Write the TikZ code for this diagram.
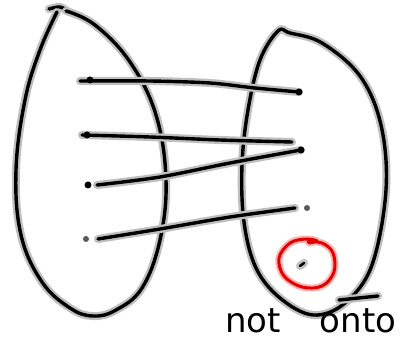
\documentclass[tikz,border=0pt]{standalone}
\usepackage{fontspec}
\setmainfont{DejaVu Sans}
\begin{document}
\begin{tikzpicture}[x=1pt,y=-1pt,
  sk/.style={line width=3.4pt, black, line cap=round, line join=round,
     preaction={draw=gray!50, line width=8pt, line cap=round, line join=round}},
  rsk/.style={line width=3pt, red!90!black, line cap=round, line join=round,
     preaction={draw=red!30, line width=7pt, line cap=round, line join=round}},
  dotm/.style={circle, fill=black, inner sep=0pt, minimum size=7pt},
  label/.style={font=\fontsize{34}{34}\selectfont, inner sep=0pt, text=black}]
\useasboundingbox (0,0) rectangle (410,347);
\fill[white] (0,0) rectangle (410,347);
% left oval
\draw[sk] plot[smooth, tension=0.6] coordinates {(49,9) (60,7) (67,11)};
\draw[sk] plot[smooth, tension=0.65] coordinates {(57,12) (40,50) (25,100) (16,170) (21,235) (42,282) (70,308) (93,316) (116,310) (142,288) (160,240) (166,180) (156,115) (130,62) (95,25) (66,11)};
% right oval
\draw[sk] plot[smooth cycle, tension=0.6] coordinates {(278,31) (260,60) (248,110) (242,165) (244,222) (256,268) (280,298) (313,315) (345,303) (372,265) (386,190) (381,125) (360,76) (322,43) (290,33)};
% dots
\coordinate (a1) at (90,80);
\coordinate (a2) at (87,135);
\coordinate (a3) at (88,185);
\coordinate (a4) at (86,239);
\coordinate (b1) at (299,92);
\coordinate (b2) at (301,150);
\coordinate (b3) at (307,208);
\coordinate (b4) at (302,265);
% lines
\draw[sk] plot[smooth, tension=0.5] coordinates {(80,81) (150,81) (210,83) (255,88) (b1)};
\draw[sk] plot[smooth, tension=0.5] coordinates {(82,135) (150,137) (220,140) (292,142)};
\draw[sk] plot[smooth, tension=0.5] coordinates {(97,185) (160,177) (230,163) (b2)};
\draw[sk] plot[smooth, tension=0.5] coordinates {(98,239) (160,229) (230,217) (295,208)};
\node[dotm] at (a1) {};
\node[dotm] at (a2) {};
\node[dotm] at (a3) {};
\node[dotm, minimum size=6pt, fill=gray!70!black] at (a4) {};
\node[dotm] at (b1) {};
\node[dotm] at (b2) {};
\node[dotm, minimum size=6pt, fill=gray!70!black] at (b3) {};
% red circle
\draw[rsk] plot[smooth, tension=0.6] coordinates {(309,243) (317,241) (306,239) (290,243) (279,258) (284,276) (302,287) (322,286) (334,272) (333,253) (322,243) (308,242)};
\draw[sk, line width=2.5pt, preaction={draw=gray!50, line width=6pt}] (300,266) -- (304,263);
% text
\draw[sk] (339,300) -- (378,296);
\node[label, anchor=base] (t1) at (253,333) {not};
\node[label, anchor=base] (t2) at (358,333) {onto};
\end{tikzpicture}
\end{document}
